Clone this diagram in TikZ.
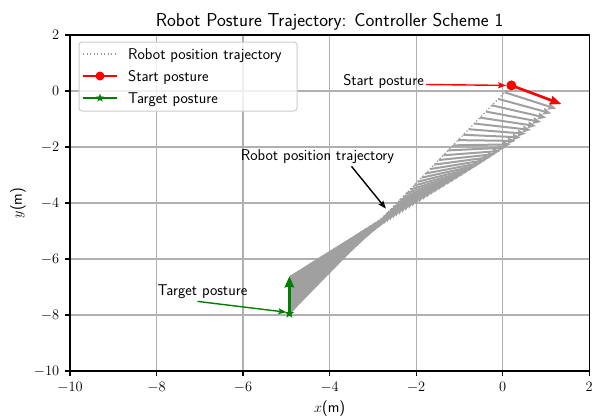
\documentclass[tikz,border=0pt]{standalone}
\usetikzlibrary{arrows.meta,shapes.geometric}
\definecolor{qgray}{RGB}{160,160,160}
\definecolor{gridgray}{RGB}{176,176,176}
\definecolor{mplgreen}{RGB}{0,128,0}
\definecolor{legedge}{RGB}{204,204,204}
\definecolor{trajgray}{RGB}{150,150,150}
\tikzset{
  gridline/.style={draw=gridgray, line width=1.2pt},
  spine/.style={draw=black, line width=1.2pt},
  tickline/.style={draw=black, line width=1.2pt},
  trajline/.style={draw=trajgray, line width=1.2pt, dash pattern=on 1.3pt off 2.2pt},
  quivgray/.style={draw=qgray, line width=2pt, -{Stealth[length=8pt,width=6.5pt,inset=0.8pt]}},
  redq/.style={draw=red, line width=2.6pt, -{Stealth[length=11pt,width=8.5pt,inset=1pt]}},
  greenq/.style={draw=mplgreen, line width=3pt, -{Stealth[length=11pt,width=9.5pt,inset=1pt]}},
  annot/.style={line width=1.4pt, -{Stealth[length=8pt,width=6pt,inset=1.5pt]}},
  lbl/.style={inner sep=0pt, font=\sffamily\fontsize{15.6}{18}\selectfont},
  dotmark/.style={circle, fill=red, minimum size=10pt, inner sep=0pt},
  starmark/.style={star, star points=5, star point ratio=2.4, fill=mplgreen, minimum size=10pt, inner sep=0pt},
}
\begin{document}
\begin{tikzpicture}[x=1pt,y=-1pt]
\useasboundingbox (0,0) rectangle (596,418);
\begin{scope}[shift={(502.7,91)}, x=43.27pt, y=28pt]
  % grid
  \foreach \gx in {-8,-6,...,0} \draw[gridline] (\gx,-10) -- (\gx,2);
  \foreach \gy in {-8,-6,...,0} \draw[gridline] (-10,\gy) -- (2,\gy);
  \coordinate (S) at (0.2,0.2);
  \coordinate (T) at (-4.93,-7.95);
  % trajectory
  \draw[trajline] (S) -- (T);
  % heading arrows
  \foreach \k in {0,...,200}{
    \pgfmathsetmacro{\s}{0.97^\k}
    \pgfmathsetmacro{\th}{90-120*\s}
    \draw[quivgray] ({-4.93+5.13*\s},{-7.95+8.15*\s}) -- ++(\th:1.33);
  }
  \draw[redq] (S) -- ++(-30:1.33);
  \draw[greenq] (T) -- ++(90:1.33);
  \node[dotmark] (startdot) at (S) {};
  \node[starmark] (targetstar) at (T) {};
  % axes
  \draw[spine] (-10,-10) rectangle (2,2);
  \foreach \gx in {-10,-8,...,2}
    \draw[tickline] (\gx,-10) -- ++(0pt,-5.2pt) node[lbl, anchor=north, yshift=-5pt] {$\gx$};
  \foreach \gy in {-10,-8,...,2}
    \draw[tickline] (-10,\gy) -- ++(-5.2pt,0pt) node[lbl, anchor=east, xshift=-5pt] {$\gy$};
  \coordinate (startpt) at (0.08,0.2);
  \coordinate (trajpt) at (-2.7,-4.2);
  \coordinate (targetpt) at (-5.0,-7.9);
\end{scope}
% title and axis labels
\node[lbl, anchor=base, font=\sffamily\fontsize{18.7}{22}\selectfont] (title) at (329.6,26) {Robot Posture Trajectory: Controller Scheme 1};
\node[lbl, anchor=base] (xlab) at (329.6,412) {$x$(m)};
\node[lbl, rotate=90] (ylab) at (18,203) {$y$(m)};
% annotations
\node[lbl, anchor=base east] (starttext) at (424,85) {Start posture};
\draw[annot, red] ([xshift=2pt,yshift=0.5pt]starttext.base east) -- (startpt);
\node[lbl, anchor=base] (trajtext) at (317.5,160) {Robot position trajectory};
\draw[annot, black] ([xshift=34pt,yshift=-3pt]trajtext.south) -- (trajpt);
\node[lbl, anchor=base] (targettext) at (202.5,295) {Target posture};
\draw[annot, mplgreen] ([xshift=-5pt,yshift=-3pt]targettext.south) -- (targetpt);
% legend
\draw[draw=legedge, fill=white, fill opacity=0.8, rounded corners=3pt, line width=1pt] (79,42) rectangle (297,111);
\draw[trajline] (83,54) -- (117,54);
\node[lbl, anchor=base west] (leg1) at (128,59.5) {Robot position trajectory};
\draw[draw=red, line width=2pt] (83,76) -- (117,76);
\node[dotmark, minimum size=9pt] (legdot) at (100,76) {};
\node[lbl, anchor=base west] (leg2) at (128,81.5) {Start posture};
\draw[draw=mplgreen, line width=2pt] (83,98) -- (117,98);
\node[starmark, minimum size=9pt] (legstar) at (100,98) {};
\node[lbl, anchor=base west] (leg3) at (128,103.5) {Target posture};
\end{tikzpicture}
\end{document}
